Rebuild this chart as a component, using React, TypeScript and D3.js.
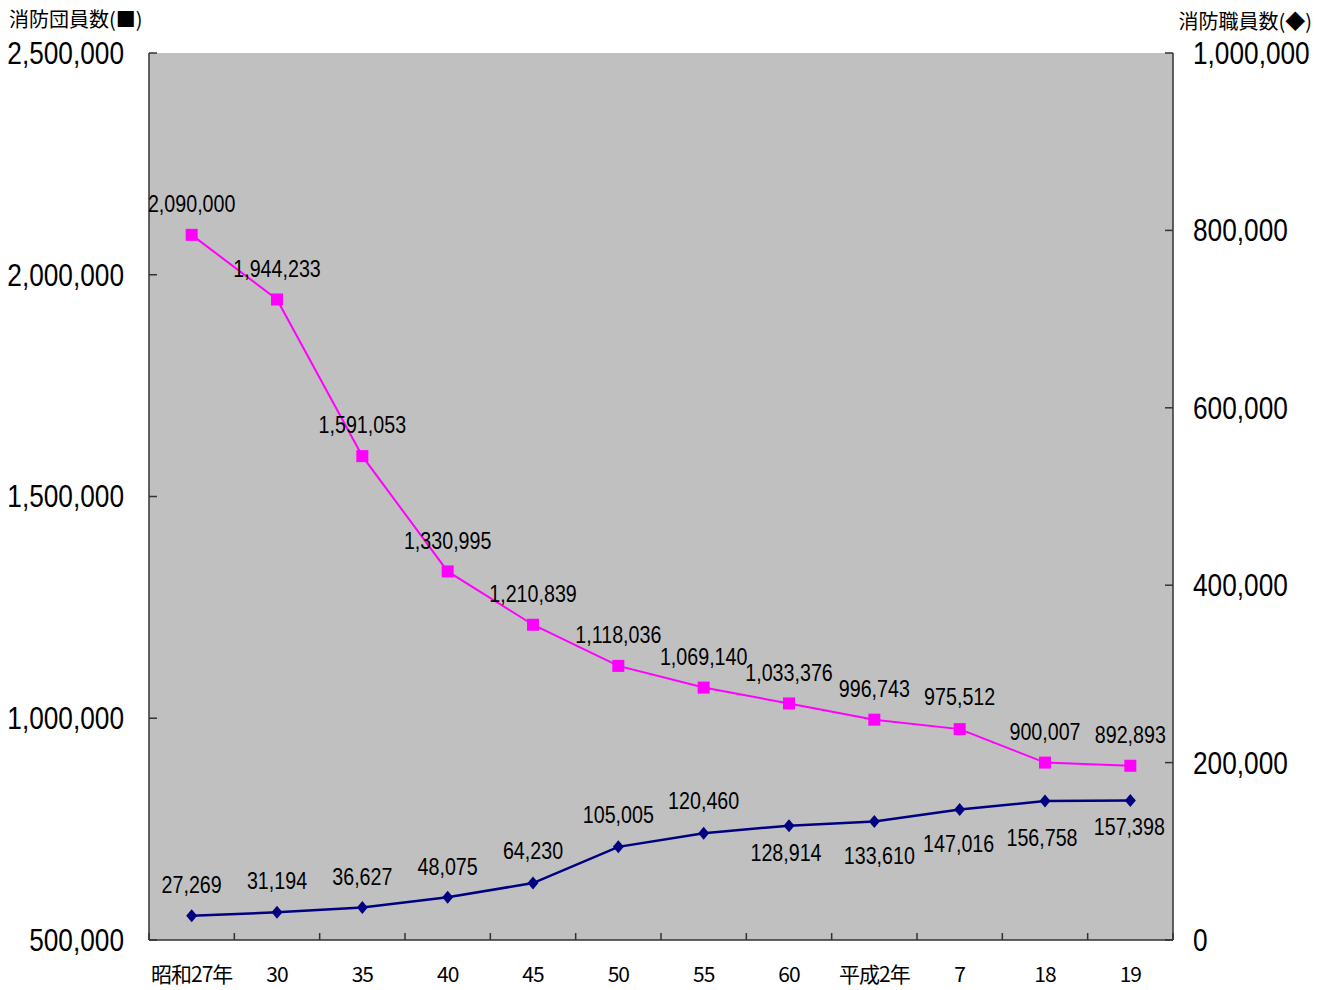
import React from "react";
import * as d3 from "d3";

const categories = ["昭和27年", "30", "35", "40", "45", "50", "55", "60", "平成2年", "7", "18", "19"];
const danValues = [2090000, 1944233, 1591053, 1330995, 1210839, 1118036, 1069140, 1033376, 996743, 975512, 900007, 892893];
const shokuValues = [27269, 31194, 36627, 48075, 64230, 105005, 120460, 128914, 133610, 147016, 156758, 157398];
const leftTicks = [500000, 1000000, 1500000, 2000000, 2500000];
const rightTicks = [0, 200000, 400000, 600000, 800000, 1000000];

// label layout (vertical offset of label centre from marker)
const danLabelDy = [-31, -31, -31, -31, -31, -31, -31, -31, -31, -32, -31, -31];
const shokuLabelDy = [-31, -32, -31, -31, -32, -32, -32, 27, 34, 34, 37, 26];
const shokuLabelDx = [0, 0, 0, 0, 0, 0, 0, -3, 5, -1, -3, -1];

const W = 1329, H = 990;
const L = 149, R = 1173, T = 53, B = 940;
const FONT = "'Liberation Sans', Arial, sans-serif";
const CJK = "'Noto Sans CJK JP', sans-serif";
const fmt = d3.format(",");

function NarrowText({ x, y, text, size, anchor = "middle", sx = 0.82 }: any) {
  return (
    <text
      transform={`translate(${x},${y}) scale(${sx},1)`}
      fontFamily={FONT}
      fontSize={size}
      textAnchor={anchor}
      dominantBaseline="central"
      fill="#000"
    >
      {text}
    </text>
  );
}

export default function App() {
  const x = d3.scaleBand<string>().domain(categories).range([L, R]);
  const cx = (c: string) => (x(c) as number) + x.bandwidth() / 2;
  const yL = d3.scaleLinear().domain([500000, 2500000]).range([B, T]);
  const yR = d3.scaleLinear().domain([0, 1000000]).range([B, T]);

  const danLine = d3.line<number>().x((_, i) => cx(categories[i])).y((d) => yL(d));
  const shokuLine = d3.line<number>().x((_, i) => cx(categories[i])).y((d) => yR(d));

  const axisColor = "#333";
  const boundaries = categories.map((c) => x(c) as number).concat([R]);

  return (
    <svg width={W} height={H} style={{ position: "absolute", left: 0, top: 0 }}>
      <rect x={0} y={0} width={W} height={H} fill="#fff" />
      <rect x={L} y={T} width={R - L} height={B - T} fill="#C0C0C0" />

      {/* axes */}
      <line x1={L} y1={T} x2={L} y2={B} stroke={axisColor} strokeWidth={1.5} />
      <line x1={R} y1={T} x2={R} y2={B} stroke={axisColor} strokeWidth={1.5} />
      <line x1={L} y1={B} x2={R} y2={B} stroke={axisColor} strokeWidth={1.5} />
      {leftTicks.map((t) => (
        <line key={"lt" + t} x1={L} x2={L + 8} y1={yL(t)} y2={yL(t)} stroke={axisColor} strokeWidth={1.5} />
      ))}
      {rightTicks.map((t) => (
        <line key={"rt" + t} x1={R - 8} x2={R} y1={yR(t)} y2={yR(t)} stroke={axisColor} strokeWidth={1.5} />
      ))}
      {boundaries.map((b, i) => (
        <line key={"xt" + i} x1={b} x2={b} y1={B - 7} y2={B} stroke={axisColor} strokeWidth={1.5} />
      ))}

      {/* tick labels */}
      {leftTicks.map((t) => (
        <NarrowText key={"ll" + t} x={124} y={yL(t)} text={fmt(t)} size={32} anchor="end" />
      ))}
      {rightTicks.map((t) => (
        <NarrowText key={"rl" + t} x={1193} y={yR(t)} text={fmt(t)} size={32} anchor="start" />
      ))}
      {categories.map((c) => (
        <text
          key={"cl" + c}
          x={cx(c)}
          y={973}
          fontFamily={CJK}
          fontSize={21}
          textAnchor="middle"
          dominantBaseline="central"
          letterSpacing={-1}
        >
          {c}
        </text>
      ))}

      {/* axis titles */}
      <text x={9} y={18} fontFamily={CJK} fontSize={20} dominantBaseline="central">
        消防団員数(■)
      </text>
      <text x={1312} y={20} fontFamily={CJK} fontSize={20} textAnchor="end" dominantBaseline="central">
        消防職員数(◆)
      </text>

      {/* series */}
      <path d={danLine(danValues) || ""} fill="none" stroke="#FF00FF" strokeWidth={2} />
      <path d={shokuLine(shokuValues) || ""} fill="none" stroke="#000080" strokeWidth={2.5} />
      {danValues.map((v, i) => (
        <rect key={"dm" + i} x={cx(categories[i]) - 6} y={yL(v) - 6} width={12} height={12} fill="#FF00FF" />
      ))}
      {shokuValues.map((v, i) => {
        const px = cx(categories[i]);
        const py = yR(v);
        return (
          <path
            key={"sm" + i}
            d={`M${px},${py - 6.5}L${px + 5.5},${py}L${px},${py + 6.5}L${px - 5.5},${py}Z`}
            fill="#000080"
          />
        );
      })}

      {/* data labels */}
      {danValues.map((v, i) => (
        <NarrowText key={"dl" + i} x={cx(categories[i])} y={yL(v) + danLabelDy[i]} text={fmt(v)} size={24} />
      ))}
      {shokuValues.map((v, i) => (
        <NarrowText
          key={"sl" + i}
          x={cx(categories[i]) + shokuLabelDx[i]}
          y={yR(v) + shokuLabelDy[i]}
          text={fmt(v)}
          size={24}
        />
      ))}
    </svg>
  );
}
